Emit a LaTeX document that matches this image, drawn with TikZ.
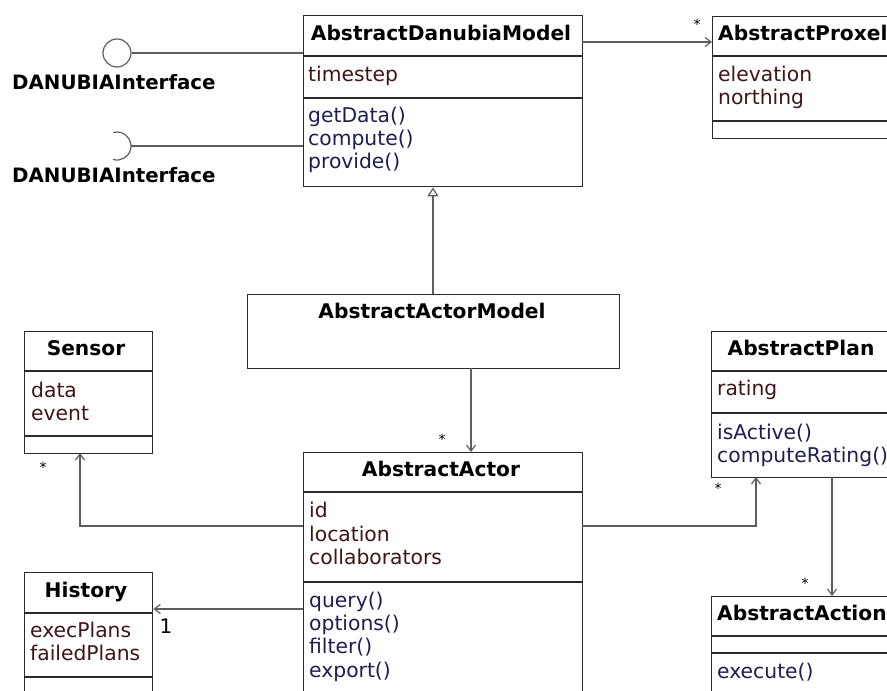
\documentclass[tikz,border=0pt]{standalone}
\usepackage{fontspec}
\setmainfont{DejaVu Sans}
\usetikzlibrary{arrows.meta,calc}
\definecolor{attrc}{HTML}{3F1616}
\definecolor{methc}{HTML}{1E1E50}
\definecolor{linec}{HTML}{5E5E5E}
\definecolor{boxc}{HTML}{2A2A2A}
\begin{document}
\begin{tikzpicture}[x=1pt,y=-1pt,
  cls/.style={draw=boxc, line width=1.4pt, fill=white, inner sep=0pt, anchor=north west},
  ttl/.style={font=\fontsize{20.2}{23}\selectfont\bfseries, text=black, inner sep=0pt, anchor=base},
  ttlw/.style={ttl, anchor=base west},
  attr/.style={font=\fontsize{20.3}{23}\selectfont, text=attrc, inner sep=0pt, anchor=base west},
  meth/.style={font=\fontsize{20.3}{23}\selectfont, text=methc, inner sep=0pt, anchor=base west},
  ilabel/.style={font=\fontsize{19.8}{22}\selectfont\bfseries, text=black, inner sep=0pt, anchor=base west},
  divl/.style={draw=boxc, line width=1.4pt},
  conn/.style={draw=linec, line width=1.2pt},
  assoc/.style={conn, -{Straight Barb[length=6pt,width=9pt]}},
  gen/.style={conn, -{Triangle[open,length=9pt,width=11pt,fill=white]}},
  mult/.style={font=\fontsize{14}{14}\selectfont, text=black, inner sep=0pt, anchor=base},
  one/.style={font=\fontsize{20}{23}\selectfont, text=black, inner sep=0pt, anchor=base}
]
\useasboundingbox (0,0) rectangle (887,691);
\clip (0,0) rectangle (887,691);

% ---------- AbstractDanubiaModel ----------
\node[cls, minimum width=279pt, minimum height=171pt] (dm) at (303,15) {};
\draw[divl] (303,56) -- (582,56);
\draw[divl] (303,98) -- (582,98);
\node[ttl] (dmT) at (441,40) {AbstractDanubiaModel};
\node[attr] (dmA1) at (308,81) {timestep};
\node[meth] (dmM1) at (308,122) {getData()};
\node[meth] (dmM2) at (308,145) {compute()};
\node[meth] (dmM3) at (308,168) {provide()};

% ---------- AbstractProxel ----------
\node[cls, minimum width=200pt, minimum height=122pt] (px) at (712,16) {};
\draw[divl] (712,56) -- (912,56);
\draw[divl] (712,121) -- (912,121);
\node[ttlw] (pxT) at (718,40) {AbstractProxel};
\node[attr] (pxA1) at (718,81) {elevation};
\node[attr] (pxA2) at (718,104) {northing};

% ---------- AbstractActorModel ----------
\node[cls, minimum width=372pt, minimum height=74pt] (am) at (247,294) {};
\node[ttl] (amT) at (432,318) {AbstractActorModel};

% ---------- Sensor ----------
\node[cls, minimum width=128pt, minimum height=122pt] (sn) at (24,331) {};
\draw[divl] (24,371) -- (152,371);
\draw[divl] (24,436) -- (152,436);
\node[ttl] (snT) at (86,355) {Sensor};
\node[attr] (snA1) at (31,397) {data};
\node[attr] (snA2) at (31,420) {event};

% ---------- AbstractActor ----------
\node[cls, minimum width=279pt, minimum height=260pt] (aa) at (303,452) {};
\draw[divl] (303,492) -- (582,492);
\draw[divl] (303,582) -- (582,582);
\node[ttl] (aaT) at (441,476) {AbstractActor};
\node[attr] (aaA1) at (309,517) {id};
\node[attr] (aaA2) at (309,541) {location};
\node[attr] (aaA3) at (309,564) {collaborators};
\node[meth] (aaM1) at (309,607) {query()};
\node[meth] (aaM2) at (309,630) {options()};
\node[meth] (aaM3) at (309,653) {filter()};
\node[meth] (aaM4) at (309,677) {export()};

% ---------- History ----------
\node[cls, minimum width=128pt, minimum height=150pt] (hs) at (24,572) {};
\draw[divl] (24,613) -- (152,613);
\draw[divl] (24,677) -- (152,677);
\node[ttl] (hsT) at (86,597) {History};
\node[attr] (hsA1) at (30,637) {execPlans};
\node[attr] (hsA2) at (30,660) {failedPlans};

% ---------- AbstractPlan ----------
\node[cls, minimum width=180pt, minimum height=146pt] (pl) at (711,331) {};
\draw[divl] (711,371) -- (891,371);
\draw[divl] (711,413) -- (891,413);
\node[ttl] (plT) at (801,355) {AbstractPlan};
\node[attr] (plA1) at (717,395) {rating};
\node[meth] (plM1) at (717,439) {isActive()};
\node[meth] (plM2) at (717,462) {computeRating()};

% ---------- AbstractAction ----------
\node[cls, minimum width=200pt, minimum height=200pt] (ac) at (711,596) {};
\draw[divl] (711,636) -- (911,636);
\draw[divl] (711,653) -- (911,653);
\node[ttlw] (acT) at (717,620) {AbstractAction};
\node[meth] (acM1) at (717,678) {execute()};

% ---------- Interfaces ----------
\node[draw=linec, line width=1.2pt, circle, minimum size=28pt, inner sep=0pt] (lol) at (117,53) {};
\draw[conn] (lol.east) -- (lol.east -| dm.west);
\node[ilabel] (lolL) at (12,89) {DANUBIAInterface};

\coordinate (sc) at (117,146);
\draw[conn] ([shift={(106:14)}]sc) arc[start angle=106, end angle=-106, radius=14];
\coordinate (se) at (131,146);
\draw[conn] (se) -- (se -| dm.west);
\node[ilabel] (sockL) at (12,182) {DANUBIAInterface};

% ---------- Connectors ----------
\coordinate (dmR) at (582,42);
\draw[assoc] (dmR) -- (dmR -| px.west);
\node[mult] (m1) at (697,29) {*};

\coordinate (g1) at (433,294);
\draw[gen] (g1) -- (g1 |- dm.south);

\coordinate (amB) at (471,368);
\draw[assoc] (amB) -- (amB |- aa.north);
\node[mult] (m2) at (442,444) {*};

\coordinate (aaL) at (303,526);
\coordinate (snB) at (80,453);
\draw[assoc] (aaL) -| (snB);
\node[mult] (m3) at (43,472) {*};

\coordinate (aaH) at (303,609);
\draw[assoc] (aaH) -- (aaH -| hs.east);
\node[one] (m4) at (166,633) {1};

\coordinate (aaR) at (582,526);
\coordinate (plB) at (756,477);
\draw[assoc] (aaR) -| (plB);
\node[mult] (m5) at (718,493) {*};

\coordinate (plB2) at (832,477);
\draw[assoc] (plB2) -- (plB2 |- ac.north);
\node[mult] (m6) at (805,588) {*};
\end{tikzpicture}
\end{document}
